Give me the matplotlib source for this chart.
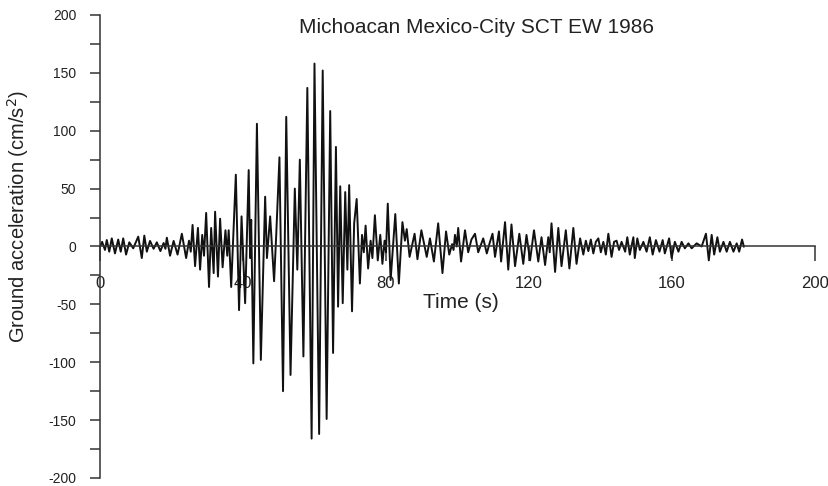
import matplotlib.pyplot as plt
from matplotlib.ticker import MultipleLocator

plt.rcParams['font.family'] = ['Liberation Sans', 'DejaVu Sans']
plt.rcParams['axes.unicode_minus'] = False

# extrema of the trace (time in s, acceleration in cm/s2)
t = [0.0, 0.6, 1.4, 1.9, 2.6, 3.3, 4.2, 5.1, 5.8, 6.5, 7.3, 8.2, 9.3, 10.7, 11.7,
     12.4, 13.1, 14.0, 15.0, 15.9, 16.9, 17.8, 18.3, 18.7, 19.6, 20.6, 21.7, 22.9,
     24.1, 24.9, 25.4, 25.9, 26.6, 27.4, 28.0, 28.6, 29.1, 29.7, 30.5, 31.1, 31.8,
     32.2, 33.0, 33.6, 34.3, 35.1, 35.6, 36.0, 36.7, 37.3, 38.0, 38.9, 39.6, 40.6,
     41.6, 42.0, 42.3, 42.9, 43.9, 45.0, 46.2, 46.7, 47.6, 48.7, 49.3, 50.2, 51.2,
     52.1, 53.3, 54.5, 55.2, 55.9, 56.9, 58.0, 59.2, 60.0, 61.3, 62.3, 63.4, 64.4,
     65.2, 66.0, 66.6, 67.2, 67.9, 68.6, 69.2, 69.7, 70.5, 71.1, 71.8, 72.7, 73.3,
     73.8, 74.3, 75.0, 75.7, 76.2, 76.9, 77.7, 78.4, 79.0, 79.6, 80.0, 80.5, 81.3,
     82.6, 83.6, 84.6, 85.3, 85.8, 86.6, 88.0, 88.8, 89.9, 91.4, 92.3, 93.4, 94.6,
     95.8, 96.8, 97.7, 98.5, 98.9, 99.3, 99.8, 100.2, 101.0, 102.1, 103.0, 103.9,
     104.9, 105.8, 107.2, 108.2, 109.0, 109.8, 110.5, 111.6, 112.2, 113.3, 114.2,
     115.1, 116.1, 117.3, 118.4, 119.3, 120.3, 121.4, 122.6, 123.5, 124.5, 125.4,
     125.8, 126.3, 127.3, 128.2, 129.1, 130.3, 131.3, 132.4, 133.3, 134.3, 135.2,
     135.9, 136.6, 137.3, 138.0, 138.7, 139.4, 140.1, 140.8, 141.5, 142.2, 143.1,
     143.8, 144.5, 145.2, 145.9, 146.9, 147.5,
     148.2, 149.2, 149.6, 150.3, 151.0, 152.0, 152.9, 153.8, 154.6, 155.5, 156.5,
     157.4, 158.0, 159.2, 159.9, 160.8, 161.8, 162.7, 163.6, 164.6, 165.5, 166.9,
     168.3, 169.5, 170.3, 171.1, 171.8, 172.7, 173.4, 174.4, 175.3, 176.2, 177.2,
     178.1, 178.8, 179.6, 180.1]
acc = [0, 4, -3, 5.6, -4.5, 7, -6, 6, -4.5, 7, -7, 3.6, -1.6, 8.5, -10,
       9.4, -4.5, 4.8, -2, 3.6, -4, 3, -2, 7.6, -8, 4.8, -7, 11,
       -10, 5, -4.5, 18.6, -17, 16, -20, 10, -8, 29, -35, 16, -23,
       30, -26, 24, -18, 14, -8, 14, -35, 10, 62, -55, 26, -49,
       66, -10, 23, -101, 106, -98, 43, -10, 26, -30, 10, 77, -125,
       112, -111, 50, -20, 75, -95, 137, -166, 158, -162, 152, -149, 117,
       -92, 86, -52, 52, -49, 47, -20, 53, -56, 20, 41, -32, 10,
       -5, 18, -19, 5, -10, 27, -12, 10, -15, 5, -5, 37, -29,
       28, -32, 21, 5, 15, -9, 11, -11, 14, -9, 7, -13, 20,
       -23, 13, -7, 2, -3, 10, 0, 16, -13, 14, -5, 6,
       11, -5, 7, -6, 3, 11, -9, 13, -13, 21, -20,
       19, -17, 11, -15, 10, -12, 14, -13, 8, -16, 8,
       -5, 20, -22, 16, -17, 14, -19, 16, -15, 7, -7,
       5, -4, 6, -6, 4, 7, -5, 4, -7, 11, -9,
       4, 5, -3, 4, -4.5, 8,
       -7, 8, -10, 7, -3, 4, -4.5, 8, -7, 5.5, -4.5,
       5.5, -6, 7, -10, 4, -4.5, 4, -1.6, 2.7, -1.6, 2.7,
       0, 11, -12, 10, -7, 8, -4.5, 4, -4.5, 4, -4.5,
       2.7, -4.5, 6, 0]

title = 'Michoacan Mexico-City SCT EW 1986'
xticks = [0, 40, 80, 120, 160, 200]
yticks = [200, 150, 100, 50, 0, -50, -100, -150, -200]

fig = plt.figure(figsize=(8.29, 4.86), dpi=100)
ax = fig.add_axes([0.1206, 0.0165, 0.8625, 0.9527])

ax.plot(t, acc, color='#111111', lw=1.4)

ax.set_xlim(0, 200)
ax.set_ylim(-200, 200)
ax.spines['right'].set_visible(False)
ax.spines['top'].set_visible(False)
ax.spines['bottom'].set_position(('data', 0))
for s in ['left', 'bottom']:
    ax.spines[s].set_linewidth(1.1)
    ax.spines[s].set_color('#333333')

ax.set_xticks(xticks)
ax.set_yticks(yticks)
ax.yaxis.set_minor_locator(MultipleLocator(25))
ax.tick_params(axis='x', direction='out', length=11, width=1.1, color='#333333',
               pad=10, labelsize=12, labelcolor='#222222')
ax.tick_params(axis='y', which='both', direction='out', length=7, width=1.1,
               color='#333333', pad=10, labelsize=10, labelcolor='#222222')

ax.set_xlabel('Time (s)', fontsize=15, color='#222222')
ax.xaxis.set_label_coords(0.505, 0.40)
ax.set_ylabel('Ground acceleration (cm/s$^2$)', fontsize=14.5, color='#222222')
ax.yaxis.set_label_coords(-0.097, 0.564)

ax.text(0.527, 0.972, title, transform=ax.transAxes, ha='center', va='center',
        fontsize=15, color='#222222')

fig.savefig('out.png', dpi=100)
